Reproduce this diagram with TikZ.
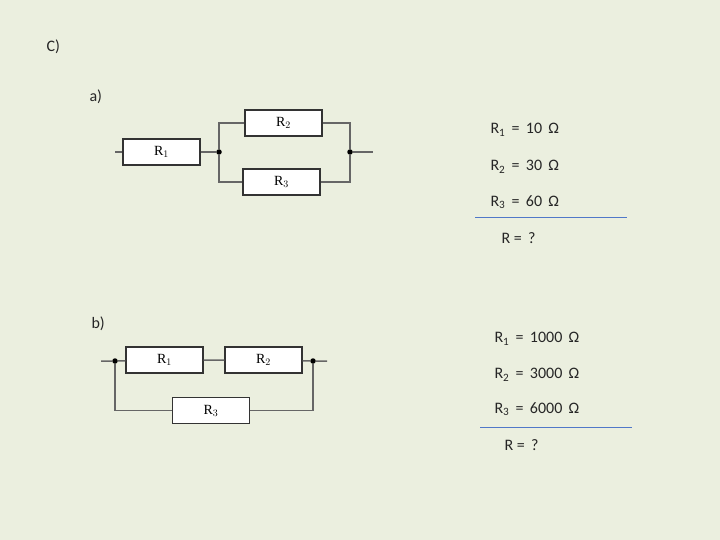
\documentclass[tikz,border=0pt]{standalone}
\usepackage{fontspec}
\setmainfont{Carlito}
\begin{document}
\begin{tikzpicture}[x=1pt,y=-1pt,
  res/.style={draw=black!80,line width=1.2pt,fill=white,minimum width=77pt,minimum height=26pt,inner sep=0pt,font=\fontspec{Liberation Serif}\fontsize{14}{16}\selectfont},
  w/.style={draw=black!60,line width=1.5pt},
  dot/.style={circle,fill=black,inner sep=0pt,minimum size=5.5pt},
  lbl/.style={anchor=west,font=\fontsize{16}{18}\selectfont,text=black!85}]
\definecolor{ln}{RGB}{80,120,200}
\fill[fill={rgb,255:red,235;green,239;blue,223}] (0,0) rectangle (720,540);
\node[lbl] (c) at (43,47) {C)};
\node[lbl] (la) at (86,97) {a)};
\node[lbl] (lb) at (88,324) {b)};
% circuit a
\coordinate (a0) at (115,152);
\node[res] (ar1) at (161.5,152) {R$_1$};
\node[dot] (aj1) at (219,152) {};
\node[res] (ar2) at (283.5,123) {R$_2$};
\node[res] (ar3) at (281.5,182) {R$_3$};
\node[dot] (aj2) at (350,152) {};
\coordinate (a9) at (373,152);
\draw[w] (a0) -- (ar1) -- (aj1);
\draw[w] (ar2.west) -| (aj1) |- (ar3.west);
\draw[w] (ar2.east) -| (aj2) |- (ar3.east);
\draw[w] (aj2) -- (a9);
% circuit b
\coordinate (b0) at (101,361);
\node[dot] (bj1) at (115,361) {};
\node[res] (br1) at (164.5,360) {R$_1$};
\node[res] (br2) at (263.5,360) {R$_2$};
\node[dot] (bj2) at (313,361) {};
\coordinate (b9) at (327,361);
\node[res] (br3) at (211,410.5) {R$_3$};
\draw[w] (b0) -- (bj1) -- (br1) -- (br2) -- (bj2) -- (b9);
\draw[w] (bj1) |- (br3.west);
\draw[w] (bj2) |- (br3.east);
% equations a
\node[lbl] (e1) at (487,130) {R\textsubscript{1} \,=\, 10 \,Ω};
\node[lbl] (e2) at (487,167) {R\textsubscript{2} \,=\, 30 \,Ω};
\node[lbl] (e3) at (487,202) {R\textsubscript{3} \,=\, 60 \,Ω};
\draw[ln,line width=1pt] (475,218) -- (627,218);
\node[lbl] (e4) at (498,238) {R = \,?};
% equations b
\node[lbl] (f1) at (491,339) {R\textsubscript{1} \,=\, 1000 \,Ω};
\node[lbl] (f2) at (491,375) {R\textsubscript{2} \,=\, 3000 \,Ω};
\node[lbl] (f3) at (491,409) {R\textsubscript{3} \,=\, 6000 \,Ω};
\draw[ln,line width=1pt] (480,427) -- (632,427);
\node[lbl] (f4) at (501,445) {R = \,?};
\end{tikzpicture}
\end{document}
